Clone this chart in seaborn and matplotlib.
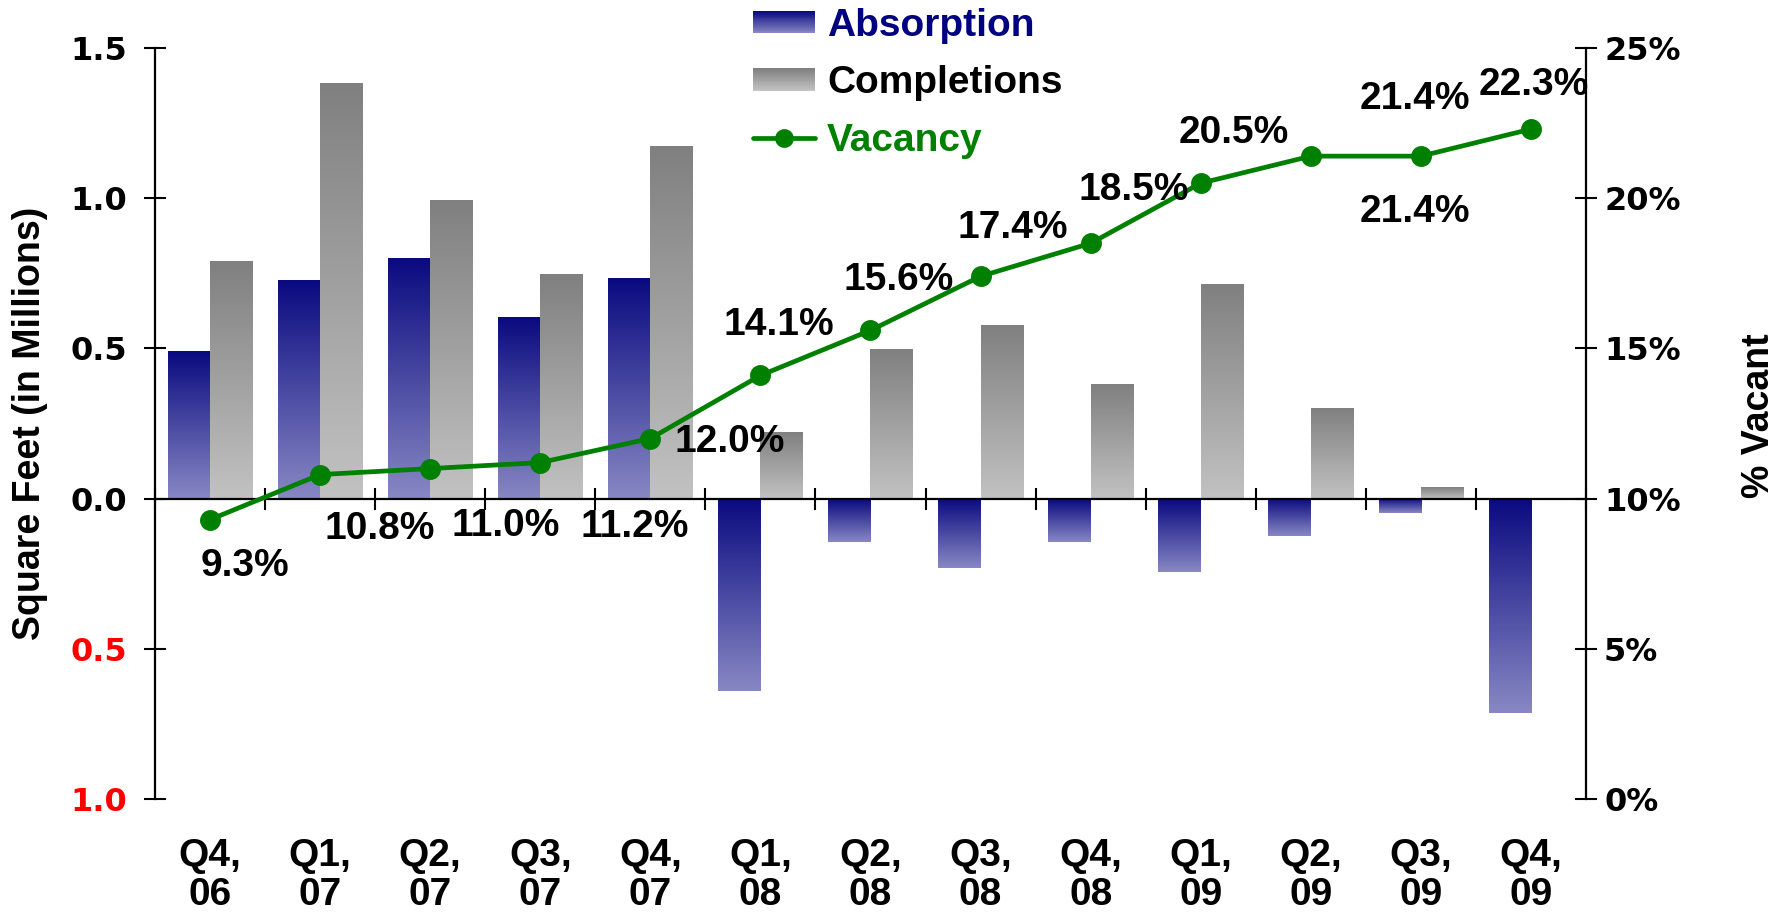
import numpy as np
import pandas as pd
import matplotlib
matplotlib.use("Agg")
import matplotlib.pyplot as plt
import seaborn as sns
from matplotlib.colors import LinearSegmentedColormap, to_rgb
from matplotlib.patches import Rectangle
from matplotlib.lines import Line2D
from matplotlib.legend_handler import HandlerBase

# data
quarters = ["Q4,\n06", "Q1,\n07", "Q2,\n07", "Q3,\n07", "Q4,\n07", "Q1,\n08", "Q2,\n08",
            "Q3,\n08", "Q4,\n08", "Q1,\n09", "Q2,\n09", "Q3,\n09", "Q4,\n09"]
absorption = [0.49, 0.727, 0.80, 0.603, 0.733, -0.64, -0.143, -0.23, -0.143, -0.243, -0.125, -0.049, -0.713]
completions = [0.79, 1.383, 0.993, 0.747, 1.173, 0.22, 0.497, 0.577, 0.38, 0.713, 0.30, 0.039, 0.0]
vacancy = [9.3, 10.8, 11.0, 11.2, 12.0, 14.1, 15.6, 17.4, 18.5, 20.5, 21.4, 21.4, 22.3]

# where each vacancy label sits relative to its marker (pixels, x right / y up)
label_offsets = [(35, -46), (60, -54), (75, -57), (94, -64), (79, -3), (18, 50), (28, 50),
                 (32, 48), (43, 53), (33, 50), (104, 57), (-6, -56), (3, 44)]

NAVY_TOP, NAVY_BOT = "#0a0a80", "#8888c4"
GRAY_TOP, GRAY_BOT = "#808080", "#c2c2c2"
GREEN = "#008000"

sns.set_style("ticks")
plt.rcParams["font.family"] = ["Liberation Sans", "DejaVu Sans"]
for key in ["text.color", "axes.labelcolor", "xtick.color", "ytick.color", "axes.edgecolor"]:
    plt.rcParams[key] = "black"

bars = pd.DataFrame({
    "quarter": quarters * 2,
    "series": ["Absorption"] * len(quarters) + ["Completions"] * len(quarters),
    "value": absorption + completions,
})
vac = pd.DataFrame({"quarter": quarters, "vacancy": vacancy})

fig, ax = plt.subplots(figsize=(17.81, 9.22), dpi=100)
fig.subplots_adjust(left=155 / 1781, right=1586 / 1781, top=1 - 48 / 922, bottom=1 - 799 / 922)

sns.barplot(data=bars, x="quarter", y="value", hue="series", width=0.77, saturation=1,
            palette={"Absorption": NAVY_BOT, "Completions": GRAY_BOT}, legend=False, ax=ax)

# vertical gradient fill on every bar (dark at the top, light at the bottom)
grad = np.linspace(0, 1, 256).reshape(-1, 1)
cmaps = {"Absorption": LinearSegmentedColormap.from_list("b", [NAVY_BOT, NAVY_TOP]),
         "Completions": LinearSegmentedColormap.from_list("g", [GRAY_BOT, GRAY_TOP])}
n = len(quarters)
for k, p in enumerate(ax.patches[:2 * n]):
    series = "Absorption" if k < n else "Completions"
    x0, y0, w, h = p.get_x(), p.get_y(), p.get_width(), p.get_height()
    if h == 0:
        continue
    p.set_facecolor("none")
    p.set_edgecolor("none")
    ax.imshow(grad, cmap=cmaps[series], origin="lower", aspect="auto", zorder=2,
              extent=[x0, x0 + w, min(y0, y0 + h), max(y0, y0 + h)])

ax2 = ax.twinx()
sns.pointplot(data=vac, x="quarter", y="vacancy", color=GREEN, markers="o", errorbar=None,
              markersize=12.5, linewidth=3.4, ax=ax2)
for i, (v, off) in enumerate(zip(vacancy, label_offsets)):
    ax2.annotate(f"{v:.1f}%", xy=(i, v), xytext=off, textcoords="offset pixels",
                 ha="center", va="center", fontsize=28, fontweight="bold", color="black")

# axes limits / ticks
ax.set_xlim(-0.5, n - 0.5)
ax.set_ylim(-1.0, 1.5)
ax2.set_ylim(0, 25)
ax.set_xticks(np.arange(-0.5, n, 1))
ax.set_xticklabels([])
ax.set_xlabel("")
ax2.set_xlabel("")
ax.tick_params(axis="x", direction="inout", length=16, width=1.5, color="black")

ax.spines["top"].set_visible(False)
ax.spines["right"].set_visible(False)
ax.spines["bottom"].set_position(("data", 0))
for s in ["left", "bottom"]:
    ax.spines[s].set_linewidth(1.6)
    ax.spines[s].set_color("black")
for s in ["left", "top", "bottom"]:
    ax2.spines[s].set_visible(False)
ax2.spines["right"].set_linewidth(1.6)
ax2.spines["right"].set_color("black")

yt = [1.5, 1.0, 0.5, 0.0, -0.5, -1.0]
ax.set_yticks(yt)
ax.set_yticklabels([f"{abs(t):.1f}" for t in yt], family="DejaVu Sans", fontweight="bold", fontsize=23)
for lbl, t in zip(ax.get_yticklabels(), yt):
    lbl.set_color("red" if t < 0 else "black")
ax.tick_params(axis="y", direction="inout", length=16, width=1.5, pad=12, color="black")

ax2.set_yticks(np.arange(0, 26, 5))
ax2.set_yticklabels([f"{t}%" for t in range(0, 26, 5)], family="DejaVu Sans", fontweight="bold",
                    fontsize=23, color="black")
ax2.tick_params(axis="y", direction="inout", length=16, width=1.5, pad=5, color="black")

ax.set_ylabel("Square Feet (in Millions)", fontweight="bold", fontsize=27, color="black")
ax.yaxis.set_label_coords(-0.075, 0.5)
ax2.set_ylabel("% Vacant", fontweight="bold", fontsize=27, color="black")
ax2.yaxis.set_label_coords(1.108, 0.511)

# quarter labels along the bottom of the plot
sec = ax.secondary_xaxis("bottom")
sec.set_xticks(np.arange(n), labels=quarters)
sec.tick_params(length=0, pad=28)
sec.spines["bottom"].set_visible(False)
for lbl in sec.get_xticklabels():
    lbl.set_fontweight("bold")
    lbl.set_fontsize(28)
    lbl.set_linespacing(1.1)
    lbl.set_color("black")


class GradientHandler(HandlerBase):
    def __init__(self, top, bottom, steps=24):
        super().__init__()
        self.top, self.bottom, self.steps = to_rgb(top), to_rgb(bottom), steps

    def create_artists(self, legend, orig_handle, xdescent, ydescent, width, height, fontsize, trans):
        arts = []
        for k in range(self.steps):
            f = k / (self.steps - 1)
            c = [b + (t - b) * f for t, b in zip(self.top, self.bottom)]
            y = -ydescent + height * k / self.steps
            arts.append(Rectangle((-xdescent, y), width, height / self.steps + 0.3,
                                  facecolor=c, edgecolor="none", transform=trans))
        return arts


h_abs = Rectangle((0, 0), 1, 1)
h_comp = Rectangle((0, 0), 1, 1)
h_vac = Line2D([], [], color=GREEN, marker="o", markersize=12.5, linewidth=3.4)
fig.legend([h_abs, h_comp, h_vac], ["Absorption", "Completions", "Vacancy"],
           handler_map={h_abs: GradientHandler(NAVY_TOP, NAVY_BOT),
                        h_comp: GradientHandler(GRAY_TOP, GRAY_BOT)},
           loc="upper left", bbox_to_anchor=(753 / 1781, 1 - 8 / 922), frameon=False,
           borderpad=0, borderaxespad=0, handlelength=1.6, handleheight=0.5, handletextpad=0.3,
           labelspacing=0.55, labelcolor=["#000080", "black", GREEN],
           prop=dict(family="Liberation Sans", weight="bold", size=28))

fig.savefig("out.png", dpi=100)
